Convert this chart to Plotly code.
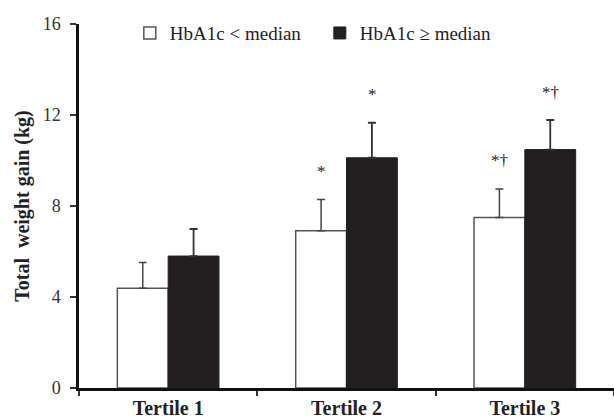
import plotly.graph_objects as go

categories = ["Tertile 1", "Tertile 2", "Tertile 3"]
low_vals = [4.38, 6.91, 7.49]
low_err = [1.14, 1.38, 1.26]
high_vals = [5.80, 10.12, 10.48]
high_err = [1.19, 1.54, 1.30]
low_marks = ["", "*", "*†"]
high_marks = ["", "*", "*†"]
y_ticks = [0, 4, 8, 12, 16]

SERIF = "Liberation Serif, Times New Roman, Times, serif"
fig = go.Figure()
fig.add_trace(go.Bar(
    x=categories, y=low_vals, name="HbA1c < median",
    marker=dict(color="white", line=dict(color="#555555", width=1.5)),
    error_y=dict(type="data", symmetric=False, array=low_err, arrayminus=[0]*3,
                 color="#444444", thickness=1.5, width=4),
))
fig.add_trace(go.Bar(
    x=categories, y=high_vals, name="HbA1c ≥ median",
    marker=dict(color="#231f20", line=dict(color="#231f20", width=1)),
    error_y=dict(type="data", symmetric=False, array=high_err, arrayminus=[0]*3,
                 color="#333333", thickness=1.8, width=4),
))

for i, c in enumerate(categories):
    for marks, vals, errs, shift in ((low_marks, low_vals, low_err, -25.5),
                                     (high_marks, high_vals, high_err, 25.5)):
        if marks[i]:
            fig.add_annotation(x=c, y=vals[i] + errs[i], text=marks[i], showarrow=False,
                               xshift=shift, yshift=28, yanchor="middle",
                               font=dict(family=SERIF, size=17, color="#222"))

fig.update_layout(
    width=614, height=420,
    margin=dict(l=79, r=0, t=24, b=32),
    plot_bgcolor="white", paper_bgcolor="white",
    barmode="group", bargap=0.43, bargroupgap=0,
    showlegend=True,
    legend=dict(orientation="h", x=0.095, xanchor="left", y=0.975, yanchor="middle",
                font=dict(family=SERIF, size=19, color="#222"),
                itemwidth=30, entrywidth=145, bgcolor="rgba(0,0,0,0)"),
    xaxis=dict(range=[-0.5, 2.5], showline=True, linecolor="#111", linewidth=2.5,
               ticks="outside", tickson="boundaries", ticklen=5, tickwidth=1.5, tickcolor="#333",
               tickfont=dict(family=SERIF, size=20, color="#222", weight="bold"),
               showgrid=False, zeroline=False, automargin=False),
    yaxis=dict(range=[0, 16], tickvals=y_ticks, showline=True, linecolor="#111", linewidth=2.5,
               ticks="outside", ticklen=6, tickwidth=1.5, tickcolor="#333",
               ticklabelstandoff=6,
               tickfont=dict(family=SERIF, size=18, color="#333"),
               title=dict(text="Total  weight gain (kg)", standoff=8,
                          font=dict(family=SERIF, size=20, color="#222", weight="bold")),
               showgrid=False, zeroline=False, automargin=False),
)
fig.write_html("out.html", config={"displayModeBar": False},
               post_script="document.body.style.margin='0';document.body.style.overflow='hidden';")
